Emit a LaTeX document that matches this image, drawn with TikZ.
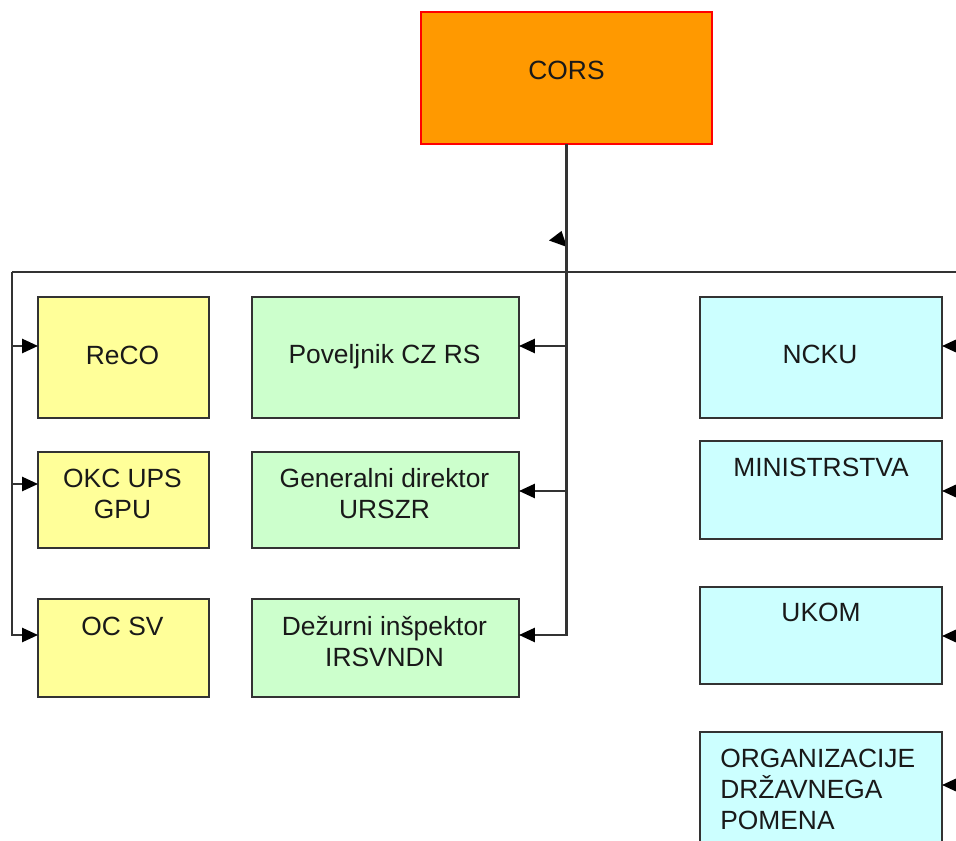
\documentclass[tikz,border=0pt]{standalone}
\usepackage{fontspec}
\setmainfont{Liberation Sans}
\usepackage{tikz}
\usetikzlibrary{arrows.meta,positioning,calc}
\definecolor{corsorange}{HTML}{FF9900}
\definecolor{boxyellow}{HTML}{FFFF99}
\definecolor{boxgreen}{HTML}{CCFFCC}
\definecolor{boxcyan}{HTML}{CCFFFF}
\definecolor{linegray}{HTML}{333333}

\begin{document}
\begin{tikzpicture}[
    font=\fontsize{15}{17.6}\selectfont,
    box/.style={draw=linegray, line width=1.1pt, inner sep=0pt, outer sep=0pt},
    yellowbox/.style={box, fill=boxyellow, minimum width=3.42cm},
    greenbox/.style={box, fill=boxgreen, minimum width=5.34cm},
    cyanbox/.style={box, fill=boxcyan, minimum width=4.84cm},
    boxtext/.style={inner sep=0pt, align=center, text=black!90},
    link/.style={draw=linegray, line width=1.2pt},
    >={Triangle[length=9pt,width=8pt,black]}
]
    \useasboundingbox (0,0) rectangle (19.12,16.8);
    \clip (0,0) rectangle (19.12,16.8);

    % CORS
    \node[box, draw=red, fill=corsorange, minimum width=5.82cm, minimum height=2.64cm] (cors) at (11.33,15.24) {};
    \node[boxtext] (corsT) at (11.33,15.4) {CORS};

    % Left column
    \node[yellowbox, minimum height=2.42cm] (reco) at (2.47,9.65) {};
    \node[boxtext] (recoT) at (2.45,9.70) {ReCO};
    \node[yellowbox, minimum height=1.92cm] (okc) at (2.47,6.80) {};
    \node[boxtext] (okcT) at (2.45,6.93) {OKC UPS\\GPU};
    \node[yellowbox, minimum height=1.96cm] (ocsv) at (2.47,3.84) {};
    \node[boxtext] (ocsvT) at (2.45,4.28) {OC SV};

    % Middle column
    \node[greenbox, minimum height=2.42cm] (poveljnik) at (7.71,9.65) {};
    \node[boxtext] (poveljnikT) at (7.69,9.67) {Poveljnik CZ RS};
    \node[greenbox, minimum height=1.92cm] (direktor) at (7.71,6.80) {};
    \node[boxtext] (direktorT) at (7.69,6.93) {Generalni direktor\\URSZR};
    \node[greenbox, minimum height=1.96cm] (inspektor) at (7.71,3.84) {};
    \node[boxtext] (inspektorT) at (7.69,3.97) {Dežurni inšpektor\\IRSVNDN};

    % Right column
    \node[cyanbox, minimum height=2.42cm] (ncku) at (16.42,9.65) {};
    \node[boxtext] (nckuT) at (16.40,9.72) {NCKU};
    \node[cyanbox, minimum height=1.96cm] (ministrstva) at (16.42,7.00) {};
    \node[boxtext] (ministrstvaT) at (16.42,7.46) {MINISTRSTVA};
    \node[cyanbox, minimum height=1.94cm] (ukom) at (16.42,4.09) {};
    \node[boxtext] (ukomT) at (16.42,4.56) {UKOM};
    \node[cyanbox, minimum height=2.6cm, anchor=north] (organizacije) at (16.42,2.16) {};
    \node[boxtext, align=left, anchor=west] (organizacijeT) at (14.4,1.02) {ORGANIZACIJE\\DRŽAVNEGA\\POMENA};

    % Bus
    \coordinate (busLeft) at (0.24,11.36);
    \coordinate (busRight) at (19.5,11.36);
    \draw[link] (busLeft) -- (busRight);
    \fill[black] (10.98,11.99) -- (11.23,12.18) -- (11.34,11.86) -- cycle;

    % Arrows to the left column
    \coordinate (lReco) at (0.24,9.88);
    \coordinate (lOkc) at (0.24,7.12);
    \coordinate (lOcsv) at (0.24,4.10);
    \draw[link,->] (busLeft) -- (lOcsv) -- (lOcsv -| ocsv.west);
    \draw[link,->] (lReco) -- (lReco -| reco.west);
    \draw[link,->] (lOkc) -- (lOkc -| okc.west);

    % Arrows to the middle column
    \coordinate (mPov) at (11.33,9.88);
    \coordinate (mDir) at (11.33,6.98);
    \coordinate (mIns) at (11.33,4.10);
    \draw[link,->] (cors.south) -- (mIns) -- (mIns -| inspektor.east);
    \draw[link,->] (mPov) -- (mPov -| poveljnik.east);
    \draw[link,->] (mDir) -- (mDir -| direktor.east);

    % Arrows to the right column
    \coordinate (rNcku) at (19.5,9.88);
    \coordinate (rMin) at (19.5,6.98);
    \coordinate (rUkom) at (19.5,4.08);
    \coordinate (rOrg) at (19.5,1.10);
    \draw[link] (busRight) -- (rOrg);
    \draw[link,->] (rNcku) -- (rNcku -| ncku.east);
    \draw[link,->] (rMin) -- (rMin -| ministrstva.east);
    \draw[link,->] (rUkom) -- (rUkom -| ukom.east);
    \draw[link,->] (rOrg) -- (rOrg -| organizacije.east);
\end{tikzpicture}
\end{document}
